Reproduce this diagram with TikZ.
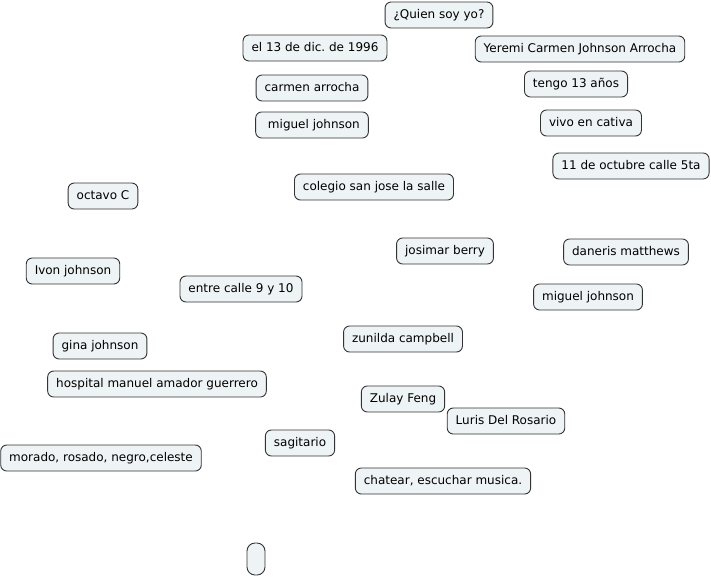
\documentclass[tikz,border=0pt]{standalone}
\usepackage{fontspec}
\setmainfont{DejaVu Sans}
\frenchspacing
\definecolor{boxfill}{HTML}{EEF3F5}
\definecolor{boxline}{HTML}{333333}
\tikzset{
  idea/.style={draw=boxline, fill=boxfill, rounded corners=6pt, line width=0.9pt,
    font=\fontsize{12}{14}\selectfont, inner xsep=8.5pt, minimum height=26pt, text height=9pt, text depth=2.5pt}
}
\begin{document}
\begin{tikzpicture}[x=1pt,y=-1pt]
\useasboundingbox (0,0) rectangle (711,576);
\node[idea] (quien) at (439,15) {¿Quien soy yo?};
\node[idea] (fecha) at (315,48) {el 13 de dic. de 1996};
\node[idea] (nombre) at (580,49) {Yeremi Carmen Johnson Arrocha};
\node[idea] (madre) at (312,88) {carmen arrocha};
\node[idea] (edad) at (576,84) {tengo 13 años};
\node[idea] (padre) at (312,125) {\ miguel johnson};
\node[idea] (cativa) at (591,123) {vivo en cativa};
\node[idea] (calle) at (631,166) {11 de octubre calle 5ta};
\node[idea] (grado) at (103,196) {octavo C};
\node[idea] (colegio) at (374,187) {colegio san jose la salle};
\node[idea] (josimar) at (445,251) {josimar berry};
\node[idea] (daneris) at (626,252) {daneris matthews};
\node[idea] (ivon) at (73,271) {Ivon johnson};
\node[idea] (entre) at (241,289) {entre calle 9 y 10};
\node[idea] (miguel) at (588,297) {miguel johnson};
\node[idea] (zunilda) at (403,339) {zunilda campbell};
\node[idea] (gina) at (100,346) {gina johnson};
\node[idea] (hospital) at (157,384) {hospital manuel amador guerrero};
\node[idea] (zulay) at (403,399) {Zulay Feng};
\node[idea] (luris) at (506,421) {Luris Del Rosario};
\node[idea] (signo) at (300,443) {sagitario};
\node[idea] (colores) at (101,458) {morado, rosado, negro,celeste};
\node[idea] (chatear) at (443,481) {chatear, escuchar musica.};
\node[idea, minimum width=18pt, minimum height=32pt, inner sep=0pt, rounded corners=8pt] (vacio) at (256,559) {};
\end{tikzpicture}
\end{document}
